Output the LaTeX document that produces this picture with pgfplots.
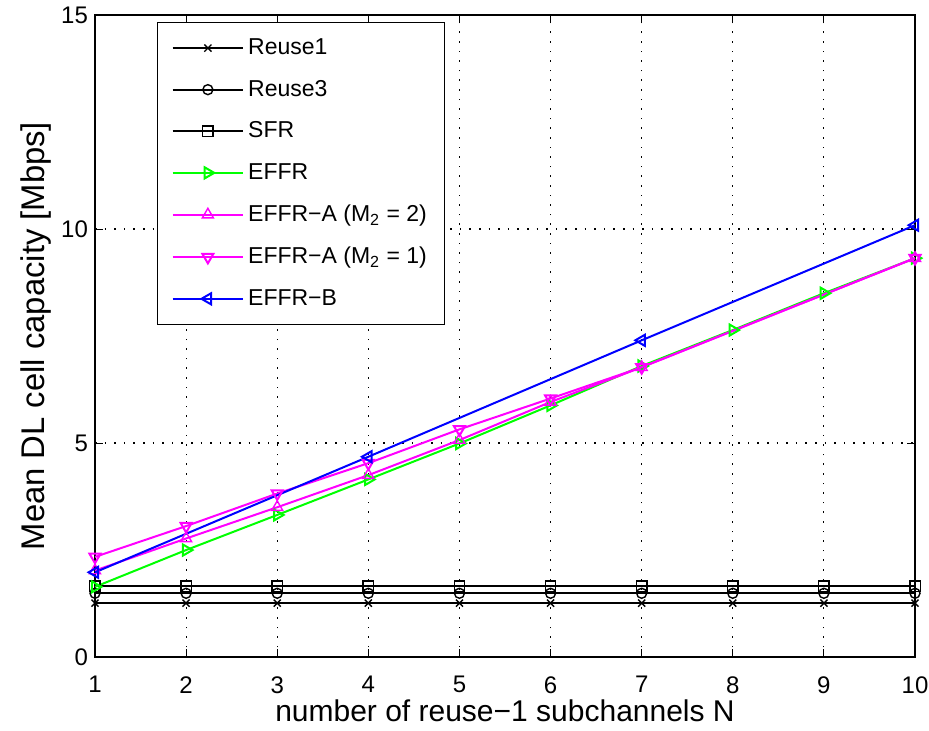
\documentclass[border=0pt]{standalone}
\usepackage{fontspec}
\setmainfont{Liberation Sans}
\usepackage{pgfplots}
\pgfplotsset{compat=1.18}

\definecolor{mgreen}{RGB}{0,255,0}
\definecolor{mmag}{RGB}{255,0,255}
\definecolor{mblue}{RGB}{0,0,255}

\begin{document}
\begin{tikzpicture}
\begin{axis}[
  scale only axis,
  width=410pt, height=321pt,
  xmin=1, xmax=10, ymin=0, ymax=15,
  xtick={1,...,10}, ytick={0,5,10,15},
  tick align=inside,
  major tick length=4pt,
  grid=major,
  grid style={black, line width=0.6pt, dash pattern=on 0.8pt off 4pt},
  axis line style={line width=0.6pt},
  every tick/.style={black, line width=0.5pt},
  /pgf/number format/assume math mode=true,
  ticklabel style={font=\fontsize{12}{14}\selectfont},
  xticklabel style={yshift=-8.5pt, inner xsep=0pt, inner ysep=1pt},
  yticklabel style={xshift=0pt},
  xlabel={number of reuse−1 subchannels N},
  ylabel={Mean DL cell capacity [Mbps]},
  xlabel style={font=\fontsize{15}{17}\selectfont, inner ysep=0pt, yshift=-2pt},
  ylabel style={font=\fontsize{16.4}{19}\selectfont, yshift=-2pt},
  legend cell align=left,
  legend style={at={(0.0756,0.989)}, anchor=north west,
    font=\fontsize{11.5}{13}\selectfont, row sep=7.3pt,
    inner xsep=7pt, inner ysep=6pt, draw=black, line width=0.6pt},
  legend image code/.code={
    \draw[mark repeat=2, mark phase=2] plot coordinates {(0cm,0cm) (0.62cm,0cm) (1.24cm,0cm)};
  },
  every axis plot/.append style={line width=1pt, mark options={solid, line width=0.7pt}},
]
\addplot[black, mark=x, mark size=2.5pt] coordinates {
(1,1.26)(2,1.26)(3,1.26)(4,1.26)(5,1.26)(6,1.26)(7,1.26)(8,1.26)(9,1.26)(10,1.26)};
\addlegendentry{Reuse1}
\addplot[black, mark=o, mark size=2.5pt] coordinates {
(1,1.49)(2,1.49)(3,1.49)(4,1.49)(5,1.49)(6,1.49)(7,1.49)(8,1.49)(9,1.49)(10,1.49)};
\addlegendentry{Reuse3}
\addplot[black, mark=square, mark size=2.6pt] coordinates {
(1,1.66)(2,1.66)(3,1.66)(4,1.66)(5,1.66)(6,1.66)(7,1.66)(8,1.66)(9,1.66)(10,1.66)};
\addlegendentry{SFR}
\addplot[mgreen, mark=triangle, mark size=3.2pt, mark options={rotate=-90}] coordinates {
(1,1.64)(2,2.50)(3,3.32)(4,4.15)(5,4.99)(6,5.88)(7,6.80)(8,7.64)(9,8.50)(10,9.32)};
\addlegendentry{EFFR}
\addplot[mmag, mark=triangle, mark size=3.2pt] coordinates {
(1,2.02)(2,2.77)(3,3.50)(4,4.25)(5,5.07)(6,5.96)(7,6.77)(10,9.32)};
\addlegendentry{EFFR−A (M\textsubscript{2} = 2)}
\addplot[mmag, mark=triangle, mark size=3.2pt, mark options={rotate=180}] coordinates {
(1,2.34)(2,3.06)(3,3.82)(4,4.53)(5,5.32)(6,6.04)(7,6.77)(10,9.32)};
\addlegendentry{EFFR−A (M\textsubscript{2} = 1)}
\addplot[mblue, mark=triangle, mark size=3.2pt, mark options={rotate=90}] coordinates {
(1,1.98)(4,4.68)(7,7.40)(10,10.09)};
\addlegendentry{EFFR−B}
\end{axis}
% page margins as in the reference
\path (current axis.south west) ++(-47.5pt,-36.5pt);
\path (current axis.north east) ++(7pt,7.5pt);
\end{tikzpicture}
\end{document}
